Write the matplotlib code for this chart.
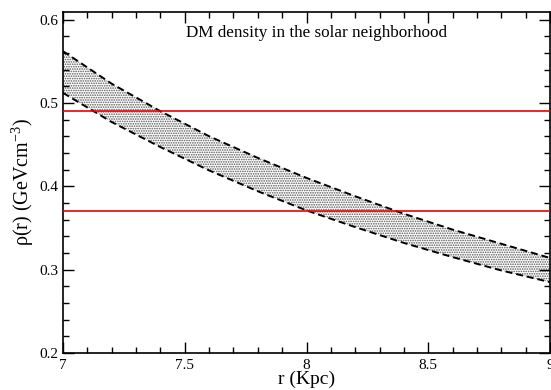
import matplotlib
matplotlib.use("Agg")
import matplotlib.pyplot as plt
from matplotlib.ticker import MultipleLocator

plt.rcParams['font.family'] = ['Liberation Serif', 'DejaVu Serif']
plt.rcParams['mathtext.fontset'] = 'custom'
plt.rcParams['mathtext.rm'] = 'Liberation Serif'
plt.rcParams['mathtext.default'] = 'regular'
plt.rcParams['hatch.linewidth'] = 0.8
plt.rcParams['hatch.color'] = '#444444'

# Data
r_vals = [7.0, 7.2, 7.4, 7.6, 7.8, 8.0, 8.2, 8.4, 8.6, 8.8, 9.0]
rho_upper = [0.562, 0.523, 0.490, 0.460, 0.434, 0.410, 0.388, 0.367, 0.348, 0.331, 0.314]
rho_lower = [0.512, 0.477, 0.447, 0.419, 0.394, 0.371, 0.351, 0.332, 0.315, 0.299, 0.285]
red_levels = [0.49, 0.37]

title_text = "DM density in the solar neighborhood"
xlabel = "r (Kpc)"
ylabel = "ρ(r) (GeVcm$^{-3}$)"

fig = plt.figure(figsize=(5.51, 3.90), dpi=100)
ax = fig.add_axes([63/551, 1-353/390, (550-63)/551, (353-12)/390])

ax.fill_between(r_vals, rho_lower, rho_upper, facecolor='white', hatch='.......',
                edgecolor='#555555', linewidth=0, zorder=1)
ax.plot(r_vals, rho_upper, color='black', lw=1.4, dashes=(3.6, 2.0), zorder=3)
ax.plot(r_vals, rho_lower, color='black', lw=1.4, dashes=(3.6, 2.0), zorder=3)
for lv in red_levels:
    ax.axhline(lv, color='#ee0000', lw=1.2, zorder=4)

ax.set_xlim(7, 9)
ax.set_ylim(0.2, 0.609)
ax.xaxis.set_minor_locator(MultipleLocator(0.1))
ax.yaxis.set_minor_locator(MultipleLocator(0.02))
ax.set_xticks([7, 7.5, 8, 8.5, 9])
ax.set_xticklabels(['7', '7.5', '8', '8.5', '9'])
ax.set_yticks([0.2, 0.3, 0.4, 0.5, 0.6])
ax.set_yticklabels(['0.2', '0.3', '0.4', '0.5', '0.6'])
ax.tick_params(which='both', direction='in', top=True, right=True, labelsize=11, width=1.0)
ax.tick_params(which='major', length=8)
ax.tick_params(which='minor', length=4.5)
ax.tick_params(axis='x', pad=4)
ax.tick_params(axis='y', pad=3)
for s in ax.spines.values():
    s.set_linewidth(1.2)

ax.set_xlabel(xlabel, fontsize=14, labelpad=-0.5)
ax.set_ylabel(ylabel, fontsize=14.5, labelpad=3)
ax.text(0.52, 0.938, title_text, transform=ax.transAxes, ha='center', va='center', fontsize=12.3)

fig.savefig('out.png', dpi=100)
